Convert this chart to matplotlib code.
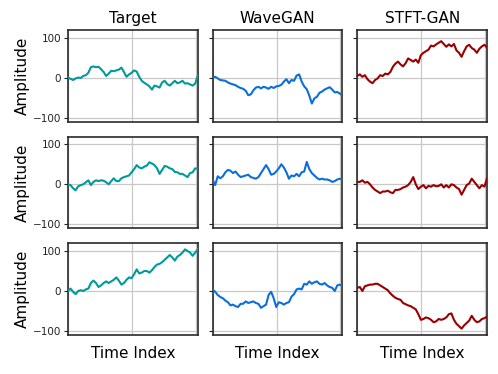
import numpy as np
import matplotlib
matplotlib.use("Agg")
import matplotlib.pyplot as plt

col_titles = ["Target", "WaveGAN", "STFT-GAN"]
colors = ["#009a9a", "#0a6fdc", "#990000"]
y_ticks = [-100, 0, 100]

# Row 1
target_1 = [0, -3, -6, -2, 0, -1, 4, 6, 12, 26, 28, 26, 27, 21, 14, 4, 10, 17, 16, 18,
            20, 25, 14, 2, 8, 12, 18, 15, 2, -8, -13, -17, -22, -30, -20, -22, -25, -12,
            -8, -16, -20, -14, -8, -14, -12, -8, -15, -14, -17, -20, -15, 5]
wavegan_1 = [0, 2, -2, -6, -7, -8, -12, -15, -17, -19, -23, -26, -28, -33, -44, -42, -32,
             -25, -23, -27, -23, -25, -28, -23, -26, -22, -21, -18, -10, -4, -14, -6, -8,
             5, 8, -10, -22, -29, -45, -65, -52, -48, -38, -35, -30, -27, -24, -30, -37,
             -36, -40, -45]
stftgan_1 = [4, 8, 2, 6, -4, -10, -14, -6, -2, 6, 4, 10, 8, 14, 27, 35, 40, 33, 28, 36,
             48, 44, 40, 45, 37, 56, 62, 66, 70, 80, 78, 83, 87, 91, 84, 77, 83, 78, 84,
             68, 62, 52, 66, 78, 82, 74, 70, 62, 72, 78, 82, 75]

# Row 2
target_2 = [0, -2, -10, -15, -5, -2, 0, 5, 10, -2, 6, 10, 8, 10, 9, 5, 0, 8, 15, 8, 8,
            15, 18, 20, 22, 30, 38, 48, 42, 40, 44, 47, 55, 52, 48, 40, 26, 36, 46, 44,
            40, 38, 31, 30, 26, 26, 22, 18, 28, 30, 40, 38]
wavegan_2 = [12, -2, 20, 15, 20, 30, 36, 34, 28, 32, 24, 18, 20, 22, 24, 18, 16, 14, 18,
             28, 38, 48, 38, 24, 26, 32, 40, 50, 42, 30, 14, 22, 20, 26, 20, 30, 32, 56,
             38, 28, 22, 16, 12, 14, 12, 12, 10, 6, 8, 12, 14, 12]
stftgan_2 = [6, 6, 10, 4, 6, 0, -8, -14, -18, -22, -18, -18, -16, -20, -22, -14, -14, -12,
             -8, -6, -2, 6, 18, 0, -12, -6, -2, -10, -4, -6, -2, -5, -4, 0, -8, -2, -8,
             0, -2, -8, -12, -26, -14, -2, 2, 14, 6, -2, -10, -2, -6, 15]

# Row 3
target_3 = [0, 6, -2, -8, 0, 2, 0, 4, 6, 20, 26, 20, 10, 14, 20, 24, 20, 24, 28, 34, 26,
            16, 20, 28, 34, 32, 42, 54, 44, 46, 50, 50, 46, 52, 60, 66, 68, 72, 78, 84,
            90, 84, 76, 86, 90, 96, 104, 100, 96, 88, 96, 104]
wavegan_3 = [4, -2, -10, -15, -18, -24, -28, -36, -34, -38, -40, -32, -32, -26, -30, -28,
             -26, -30, -32, -42, -38, -34, -10, -2, -18, -40, -28, -30, -34, -30, -28,
             -14, -8, 4, 6, 4, 18, 16, 24, 18, 22, 24, 18, 16, 20, 14, 10, 8, 0, 14, 16, 12]
stftgan_3 = [8, 10, 0, 12, 14, 16, 16, 18, 18, 14, 10, 6, 2, -6, -12, -17, -20, -22, -30,
             -33, -36, -38, -42, -46, -58, -72, -70, -66, -68, -72, -78, -76, -70, -72,
             -70, -66, -58, -56, -72, -82, -88, -94, -86, -80, -74, -62, -72, -78, -76,
             -70, -68, -64]

series = [[target_1, wavegan_1, stftgan_1],
          [target_2, wavegan_2, stftgan_2],
          [target_3, wavegan_3, stftgan_3]]

T_END = 1015

fig, axes = plt.subplots(3, 3, figsize=(4.98, 3.74), dpi=100, sharey=True)
fig.subplots_adjust(left=68/498, right=487/498, top=1-30/374, bottom=1-335/374,
                    wspace=0.115, hspace=0.165)

for r in range(3):
    for c in range(3):
        ax = axes[r, c]
        vals = series[r][c]
        t = np.linspace(0, T_END, len(vals))
        ax.plot(t, vals, color=colors[c], lw=1.5, zorder=3)
        ax.set_xlim(0, T_END)
        ax.set_ylim(-110, 119)
        ax.set_xticks([0, 500, 1000])
        ax.set_yticks(y_ticks)
        ax.grid(True, color="#c8c8c8", lw=0.9)
        ax.tick_params(axis="x", length=0, labelbottom=False)
        ax.tick_params(axis="y", length=3, width=0.8, labelsize=7.5, pad=2,
                       colors="#222222")
        for s in ax.spines.values():
            s.set_color("#2a2a2a")
            s.set_linewidth(1.2)
        if c == 0:
            ax.set_ylabel("Amplitude", fontsize=11, labelpad=2)
        else:
            ax.tick_params(axis="y", labelleft=False)
        if r == 0:
            ax.set_title(col_titles[c], fontsize=11, pad=5)
        if r == 2:
            ax.set_xlabel("Time Index", fontsize=11, labelpad=8)

fig.savefig("out.png", dpi=100)
